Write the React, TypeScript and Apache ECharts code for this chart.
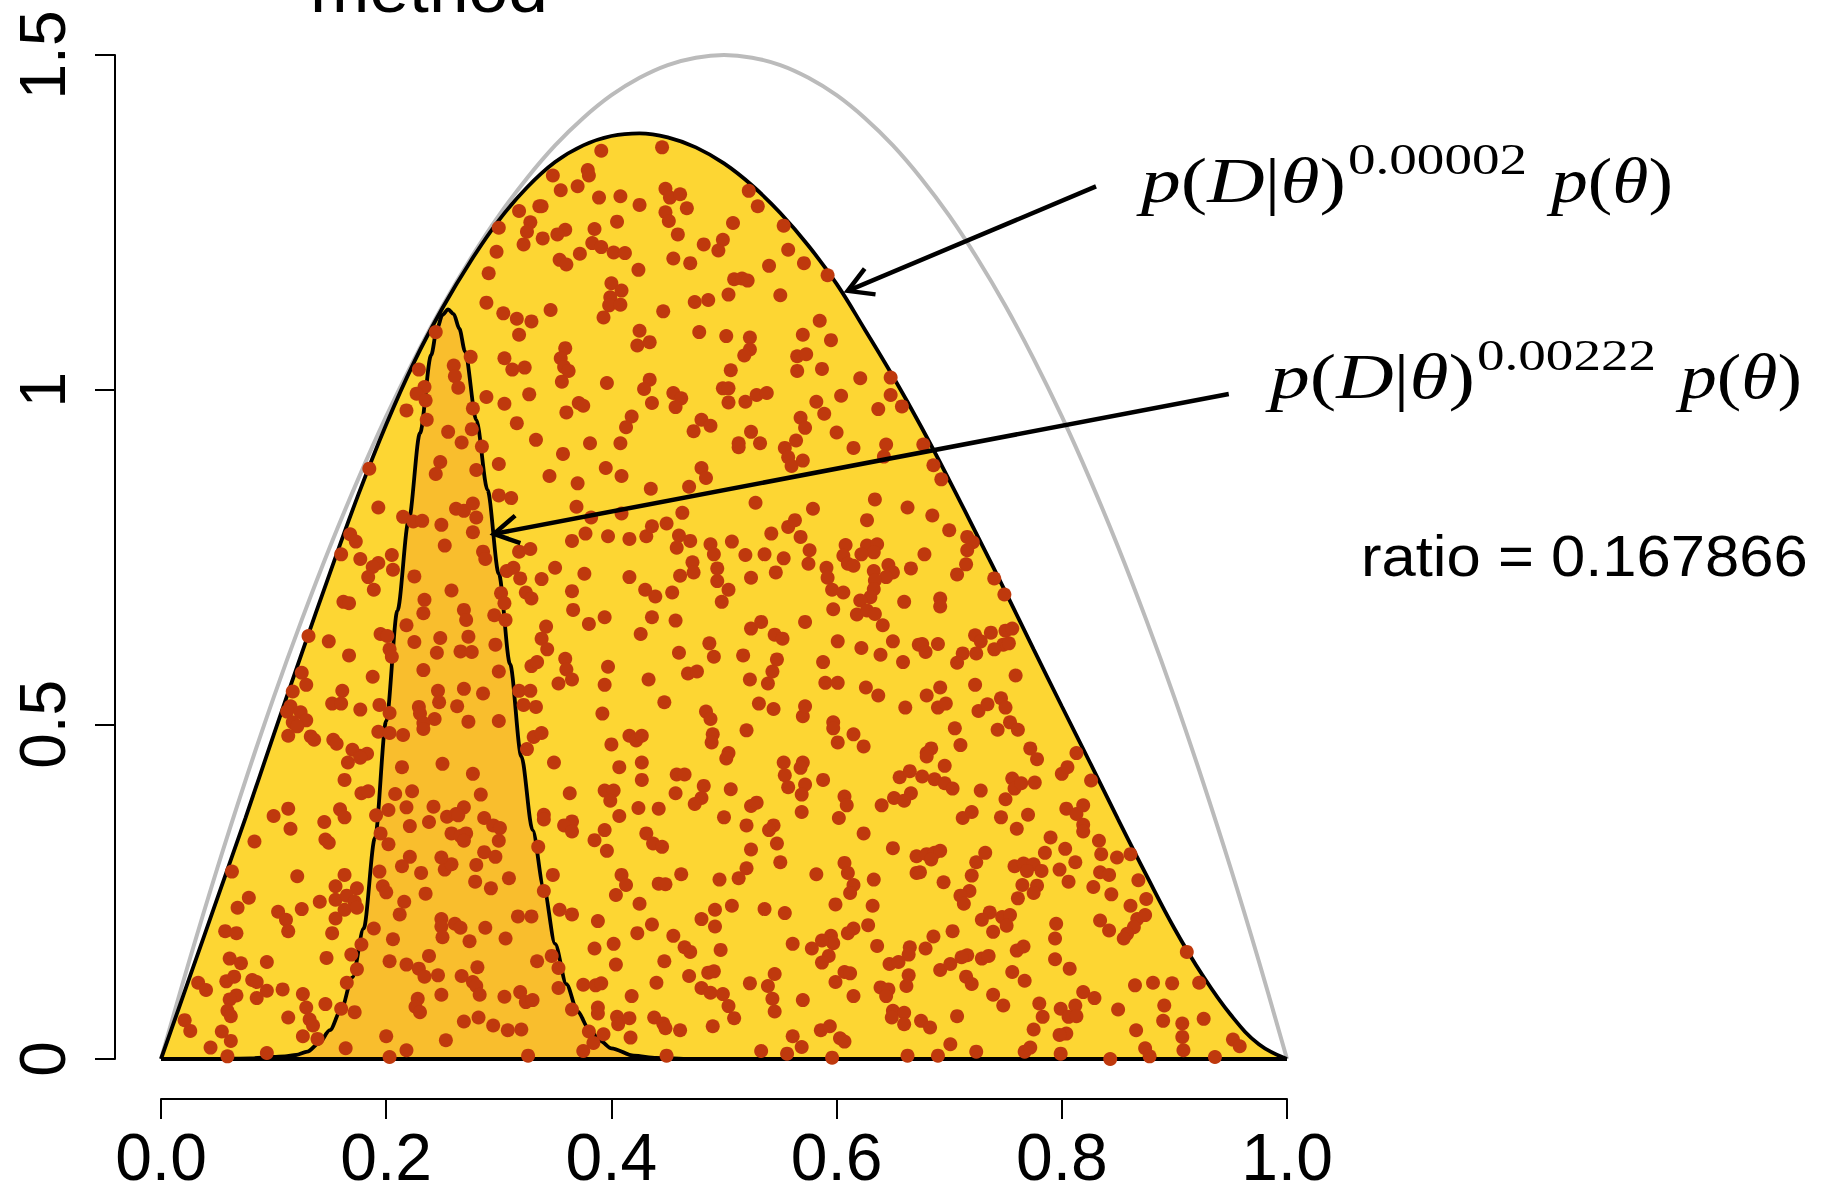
import React, { useEffect, useRef } from "react";
import * as echarts from "echarts";

// ---------- data ----------
const xTickLabels = ["0.0", "0.2", "0.4", "0.6", "0.8", "1.0"];
const yTickLabels = ["0", "0.5", "1", "1.5"];

const thetaGrid = [
  0, 0.025, 0.05, 0.075, 0.1, 0.125, 0.15, 0.175, 0.2, 0.225, 0.25, 0.275, 0.3, 0.325,
  0.35, 0.375, 0.4, 0.425, 0.45, 0.475, 0.5, 0.525, 0.55, 0.575, 0.6, 0.625, 0.65, 0.675,
  0.7, 0.725, 0.75, 0.775, 0.8, 0.825, 0.85, 0.875, 0.9, 0.925, 0.95, 0.975, 1,
];
// grey prior curve p(theta)
const priorValues = [
  0, 0.146, 0.285, 0.416, 0.54, 0.656, 0.765, 0.866, 0.96, 1.046, 1.125, 1.196, 1.26, 1.316,
  1.365, 1.406, 1.44, 1.466, 1.485, 1.496, 1.5, 1.496, 1.485, 1.466, 1.44, 1.406, 1.365, 1.316,
  1.26, 1.196, 1.125, 1.046, 0.96, 0.866, 0.765, 0.656, 0.54, 0.416, 0.285, 0.146, 0,
];
// yellow: p(D|theta)^0.00002 p(theta)
const wideValues = [
  0, 0.12, 0.24, 0.36, 0.484, 0.606, 0.726, 0.842, 0.948, 1.042, 1.122, 1.192, 1.253, 1.302,
  1.34, 1.365, 1.379, 1.383, 1.377, 1.362, 1.338, 1.305, 1.264, 1.215, 1.158, 1.09, 1.02, 0.945,
  0.865, 0.782, 0.698, 0.612, 0.527, 0.443, 0.358, 0.275, 0.195, 0.125, 0.066, 0.022, 0,
];
// orange: p(D|theta)^0.00222 p(theta)
const narrowTheta = [
  0, 0.05, 0.08, 0.1, 0.11, 0.12, 0.13, 0.14, 0.15, 0.16, 0.17, 0.18, 0.19, 0.2, 0.21, 0.22,
  0.23, 0.24, 0.245, 0.25, 0.255, 0.26, 0.265, 0.27, 0.28, 0.29, 0.3, 0.31, 0.32, 0.33, 0.34,
  0.35, 0.36, 0.37, 0.38, 0.39, 0.4, 0.42, 0.44, 0.47, 0.5, 1,
];
const narrowValues = [
  0, 0, 0.001, 0.003, 0.004, 0.006, 0.011, 0.023, 0.043, 0.074, 0.122, 0.195, 0.33, 0.505, 0.67,
  0.805, 0.935, 1.052, 1.09, 1.112, 1.12, 1.113, 1.091, 1.057, 0.955, 0.85, 0.725, 0.59, 0.452,
  0.342, 0.255, 0.172, 0.112, 0.071, 0.045, 0.027, 0.016, 0.005, 0.0015, 0, 0, 0,
];

// sampled points [theta, height]
const dotsUpperLeft = [
  [0.318,1.267],[0.336,1.274],[0.328,1.25],[0.325,1.236],[0.3,1.242],[0.322,1.217],[0.298,1.206],[0.291,1.174],
  [0.289,1.13],[0.304,1.114],[0.316,1.106],[0.329,1.102],[0.318,1.082],[0.244,1.086],[0.275,1.049],[0.26,1.036],
  [0.261,1.02],[0.264,1.003],[0.229,1.03],[0.234,1.004],[0.227,0.994],[0.235,0.984],[0.218,0.969],[0.305,1.047],
  [0.312,1.03],[0.323,1.033],[0.289,0.989],[0.305,0.979],[0.327,0.993],[0.277,0.972],[0.236,0.955],[0.255,0.937],
  [0.276,0.941],[0.316,0.95],
];
const dotsUpperMid = [
  [0.391,1.357],[0.445,1.362],[0.348,1.32],[0.379,1.328],[0.38,1.32],[0.355,1.298],[0.37,1.304],[0.389,1.287],
  [0.408,1.289],[0.425,1.276],[0.338,1.274],[0.448,1.3],[0.452,1.287],[0.461,1.292],[0.467,1.271],[0.448,1.265],
  [0.451,1.252],[0.459,1.232],[0.508,1.249],[0.522,1.297],[0.53,1.274],[0.553,1.245],[0.557,1.209],[0.571,1.189],
  [0.54,1.185],[0.592,1.171],[0.482,1.217],[0.499,1.224],[0.495,1.208],[0.455,1.196],[0.47,1.189],[0.424,1.179],
  [0.405,1.251],[0.385,1.24],[0.359,1.239],[0.352,1.232],[0.339,1.226],[0.383,1.219],[0.391,1.213],[0.402,1.205],
  [0.412,1.204],[0.372,1.203],[0.354,1.194],[0.36,1.187],[0.4,1.159],[0.409,1.148],[0.399,1.138],[0.398,1.126],
  [0.408,1.127],[0.393,1.108],[0.346,1.119],[0.446,1.117],[0.474,1.131],[0.486,1.134],[0.504,1.142],[0.509,1.165],
  [0.516,1.166],[0.521,1.163],[0.55,1.141],[0.425,1.088],[0.423,1.066],[0.434,1.071],[0.478,1.086],[0.502,1.08],
  [0.523,1.078],[0.523,1.06],[0.518,1.051],[0.506,1.029],[0.585,1.103],[0.57,1.082],[0.595,1.074],[0.565,1.05],
  [0.573,1.053],[0.565,1.028],[0.587,1.031],[0.621,1.017],[0.648,1.018],[0.648,0.992],[0.658,0.975],[0.637,0.971],
  [0.604,0.991],[0.582,0.982],[0.589,0.964],[0.6,0.936],[0.568,0.958],[0.572,0.943],[0.359,1.062],[0.355,1.047],
  [0.358,1.034],[0.362,1.028],[0.356,1.012],[0.396,1.01],[0.434,1.015],[0.429,1.001],[0.455,0.995],[0.462,0.987],
  [0.457,0.974],[0.436,0.98],[0.499,1.002],[0.504,1.002],[0.504,0.981],[0.519,0.982],[0.529,0.992],[0.538,0.995],
  [0.48,0.955],[0.488,0.946],[0.473,0.938],[0.524,0.937],[0.418,0.96],[0.413,0.944],[0.371,0.98],[0.375,0.976],
  [0.36,0.966],
];
const dotsMiddleLeft = [
  [0.333,0.925],[0.267,0.921],[0.285,0.915],[0.3,0.889],[0.248,0.892],[0.244,0.874],[0.28,0.88],[0.185,0.882],
  [0.3,0.842],[0.311,0.838],[0.193,0.824],[0.215,0.81],[0.224,0.803],[0.232,0.804],[0.249,0.798],[0.262,0.822],
  [0.269,0.819],[0.277,0.83],[0.28,0.809],[0.277,0.787],[0.252,0.767],[0.286,0.758],[0.288,0.747],[0.318,0.758],
  [0.328,0.762],[0.168,0.784],[0.173,0.773],[0.16,0.754],[0.177,0.747],[0.205,0.753],[0.206,0.731],[0.193,0.741],
  [0.188,0.735],[0.184,0.72],[0.189,0.701],[0.225,0.721],[0.258,0.7],[0.234,0.686],[0.233,0.666],[0.269,0.671],
  [0.271,0.656],[0.307,0.729],[0.313,0.734],[0.319,0.718],[0.324,0.697],[0.329,0.688],[0.302,0.696],[0.305,0.681],
  [0.296,0.663],[0.306,0.656],[0.329,0.587],[0.334,0.593],[0.162,0.683],[0.167,0.681],[0.131,0.632],[0.149,0.624],
  [0.167,0.603],[0.195,0.635],[0.201,0.632],[0.218,0.648],[0.225,0.623],[0.248,0.629],[0.273,0.631],[0.245,0.607],
  [0.266,0.609],[0.276,0.608],[0.297,0.619],[0.203,0.612],[0.205,0.601],[0.233,0.581],[0.3,0.579],[0.125,0.577],
  [0.129,0.559],[0.117,0.549],[0.188,0.571],[0.161,0.55],[0.152,0.531],[0.16,0.531],[0.115,0.527],[0.112,0.519],
  [0.124,0.518],[0.129,0.506],[0.117,0.503],[0.121,0.497],[0.177,0.522],[0.194,0.529],[0.203,0.517],[0.246,0.55],
  [0.247,0.533],[0.229,0.526],[0.23,0.516],[0.269,0.553],[0.286,0.546],[0.263,0.527],[0.243,0.508],[0.233,0.502],
  [0.233,0.493],[0.273,0.504],[0.3,0.505],[0.318,0.55],[0.328,0.55],[0.322,0.529],[0.333,0.526],[0.113,0.483],
  [0.133,0.482],[0.136,0.477],[0.153,0.477],[0.156,0.471],[0.17,0.462],[0.177,0.453],[0.183,0.456],[0.193,0.489],
  [0.203,0.487],[0.215,0.484],[0.331,0.481],[0.325,0.463],
];
const dotsMiddleMid = [
  [0.381,0.92],[0.408,0.92],[0.357,0.904],[0.345,0.871],[0.395,0.883],[0.409,0.871],[0.37,0.86],[0.435,0.852],
  [0.48,0.883],[0.484,0.868],[0.469,0.855],[0.513,0.92],[0.513,0.914],[0.532,0.92],[0.554,0.913],[0.557,0.899],
  [0.56,0.886],[0.57,0.894],[0.564,0.924],[0.615,0.913],[0.644,0.918],[0.642,0.9],[0.528,0.831],[0.579,0.822],
  [0.634,0.836],[0.663,0.824],[0.627,0.805],[0.369,0.825],[0.382,0.809],[0.409,0.815],[0.377,0.785],[0.365,0.774],
  [0.397,0.781],[0.416,0.777],[0.431,0.781],[0.436,0.796],[0.449,0.8],[0.463,0.816],[0.46,0.782],[0.458,0.764],
  [0.47,0.774],[0.488,0.769],[0.491,0.754],[0.507,0.773],[0.472,0.742],[0.473,0.727],[0.494,0.733],[0.461,0.722],
  [0.494,0.714],[0.504,0.701],[0.498,0.683],[0.519,0.753],[0.536,0.754],[0.542,0.785],[0.557,0.795],[0.563,0.805],
  [0.568,0.78],[0.576,0.76],[0.553,0.748],[0.575,0.74],[0.546,0.727],[0.524,0.719],[0.608,0.768],[0.606,0.752],
  [0.61,0.74],[0.615,0.737],[0.627,0.767],[0.636,0.769],[0.633,0.757],[0.622,0.754],[0.591,0.734],[0.592,0.719],
  [0.596,0.701],[0.606,0.697],[0.597,0.672],[0.633,0.729],[0.646,0.738],[0.65,0.727],[0.644,0.72],[0.634,0.715],
  [0.633,0.702],[0.63,0.69],[0.621,0.685],[0.618,0.664],[0.627,0.67],[0.634,0.665],[0.641,0.648],[0.66,0.683],
  [0.666,0.733],[0.35,0.734],[0.376,0.725],[0.338,0.717],[0.365,0.699],[0.366,0.671],[0.38,0.65],[0.394,0.66],
  [0.416,0.72],[0.43,0.701],[0.439,0.691],[0.436,0.66],[0.454,0.697],[0.457,0.655],[0.426,0.635],[0.342,0.646],
  [0.338,0.628],[0.343,0.612],[0.359,0.598],[0.36,0.582],[0.365,0.567],[0.353,0.561],[0.397,0.586],[0.394,0.559],
  [0.433,0.567],[0.392,0.516],[0.338,0.487],[0.416,0.483],[0.422,0.476],[0.427,0.483],[0.4,0.47],[0.447,0.533],
  [0.46,0.607],[0.487,0.621],[0.491,0.601],[0.468,0.576],[0.476,0.579],[0.517,0.603],[0.523,0.567],[0.539,0.561],
  [0.543,0.579],[0.547,0.597],[0.524,0.643],[0.533,0.653],[0.545,0.634],[0.552,0.628],[0.572,0.653],[0.601,0.624],
  [0.622,0.614],[0.639,0.604],[0.65,0.624],[0.673,0.619],[0.659,0.593],[0.588,0.593],[0.59,0.562],[0.601,0.562],
  [0.626,0.555],[0.637,0.543],[0.661,0.525],[0.531,0.531],[0.544,0.523],[0.57,0.512],[0.572,0.527],[0.597,0.503],
  [0.597,0.494],[0.615,0.485],[0.624,0.467],[0.601,0.473],[0.484,0.519],[0.488,0.508],[0.49,0.485],[0.489,0.473],
  [0.504,0.457],[0.52,0.491],
];
const dotsMiddleRight = [
  [0.677,0.918],[0.686,0.887],[0.693,0.866],[0.685,0.812],[0.7,0.79],[0.716,0.78],[0.721,0.772],[0.716,0.76],
  [0.715,0.739],[0.707,0.724],[0.678,0.754],[0.74,0.718],[0.749,0.694],[0.692,0.688],[0.692,0.676],[0.676,0.62],
  [0.679,0.608],[0.69,0.62],[0.723,0.633],[0.728,0.624],[0.737,0.637],[0.75,0.64],[0.756,0.643],[0.748,0.619],
  [0.753,0.621],[0.74,0.612],[0.724,0.606],[0.712,0.606],[0.707,0.592],[0.759,0.573],[0.723,0.559],[0.692,0.555],
  [0.68,0.543],[0.69,0.525],[0.697,0.531],[0.726,0.52],[0.734,0.53],[0.746,0.539],[0.75,0.525],[0.754,0.503],
  [0.761,0.492],[0.743,0.492],[0.705,0.494],[0.71,0.469],[0.684,0.464],[0.68,0.457],[0.772,0.464],[0.813,0.457],
];
const dotsLowerLeft = [
  [0.166,0.443],[0.177,0.45],[0.214,0.436],[0.25,0.441],[0.277,0.426],[0.163,0.417],[0.178,0.397],[0.184,0.4],
  [0.208,0.396],[0.223,0.4],[0.284,0.395],[0.218,0.376],[0.242,0.377],[0.1,0.363],[0.113,0.374],[0.115,0.344],
  [0.083,0.325],[0.145,0.354],[0.146,0.328],[0.149,0.323],[0.159,0.373],[0.163,0.361],[0.191,0.364],[0.202,0.372],
  [0.195,0.337],[0.202,0.321],[0.221,0.348],[0.238,0.354],[0.254,0.362],[0.262,0.366],[0.269,0.376],[0.264,0.364],
  [0.258,0.337],[0.266,0.333],[0.271,0.337],[0.269,0.326],[0.287,0.36],[0.295,0.349],[0.301,0.345],[0.3,0.326],
  [0.287,0.309],[0.297,0.302],[0.28,0.29],[0.335,0.317],[0.252,0.283],[0.258,0.291],[0.249,0.301],[0.221,0.302],
  [0.214,0.288],[0.231,0.278],[0.235,0.247],[0.279,0.265],[0.293,0.255],[0.309,0.27],[0.063,0.28],[0.121,0.273],
  [0.163,0.275],[0.155,0.258],[0.174,0.255],[0.155,0.238],[0.165,0.244],[0.172,0.235],[0.163,0.223],[0.174,0.226],
  [0.141,0.235],[0.125,0.224],[0.104,0.22],[0.111,0.208],[0.113,0.191],[0.078,0.241],[0.068,0.226],[0.057,0.191],
  [0.067,0.188],[0.155,0.21],[0.152,0.188],[0.194,0.28],[0.197,0.258],[0.2,0.249],[0.216,0.235],[0.212,0.216],
  [0.189,0.195],[0.206,0.179],[0.178,0.171],[0.169,0.156],[0.174,0.134],[0.147,0.151],[0.094,0.145],[0.061,0.15],
  [0.071,0.143],[0.165,0.114],[0.249,0.209],[0.249,0.198],[0.25,0.182],[0.261,0.202],[0.266,0.196],[0.288,0.196],
  [0.274,0.176],[0.306,0.18],[0.317,0.213],[0.329,0.213],[0.238,0.154],[0.203,0.146],[0.218,0.141],[0.229,0.135],
  [0.234,0.123],[0.246,0.125],[0.267,0.124],[0.281,0.137],[0.334,0.146],[0.277,0.115],[0.28,0.109],[0.283,0.096],
  [0.249,0.096],[0.228,0.09],[0.226,0.078],[0.23,0.07],[0.305,0.093],[0.319,0.1],[0.324,0.085],[0.33,0.088],
  [0.033,0.114],[0.04,0.103],[0.058,0.116],[0.065,0.123],[0.081,0.118],[0.085,0.115],[0.094,0.102],[0.108,0.104],
  [0.085,0.091],[0.067,0.095],[0.061,0.089],[0.059,0.072],[0.062,0.064],[0.021,0.058],[0.026,0.042],[0.054,0.041],
  [0.062,0.027],[0.044,0.017],[0.059,0.004],[0.094,0.009],[0.113,0.062],[0.126,0.097],[0.129,0.077],[0.132,0.059],
  [0.135,0.05],[0.126,0.034],[0.139,0.03],[0.146,0.082],[0.16,0.075],[0.172,0.07],[0.164,0.016],[0.2,0.034],
  [0.203,0.003],[0.218,0.013],[0.253,0.028],[0.269,0.056],[0.282,0.062],[0.295,0.05],[0.308,0.043],[0.32,0.044],
  [0.326,0.005],
];
const dotsLowerMid = [
  [0.349,0.443],[0.407,0.436],[0.427,0.443],[0.427,0.417],[0.363,0.397],[0.394,0.401],[0.402,0.401],[0.399,0.386],
  [0.458,0.425],[0.465,0.425],[0.482,0.408],[0.48,0.39],[0.474,0.381],[0.457,0.397],[0.506,0.403],[0.502,0.449],
  [0.553,0.443],[0.57,0.443],[0.568,0.435],[0.554,0.424],[0.557,0.406],[0.572,0.41],[0.569,0.395],[0.588,0.417],
  [0.569,0.369],[0.607,0.392],[0.609,0.379],[0.602,0.36],[0.64,0.379],[0.651,0.39],[0.66,0.386],[0.666,0.397],
  [0.656,0.421],[0.665,0.43],[0.34,0.365],[0.34,0.358],[0.365,0.355],[0.358,0.349],[0.365,0.34],[0.394,0.342],
  [0.385,0.327],[0.396,0.311],[0.407,0.363],[0.424,0.375],[0.442,0.374],[0.431,0.337],[0.437,0.322],[0.445,0.317],
  [0.5,0.361],[0.52,0.349],[0.524,0.378],[0.529,0.383],[0.544,0.349],[0.54,0.342],[0.547,0.322],[0.524,0.313],
  [0.55,0.294],[0.52,0.285],[0.513,0.27],[0.496,0.268],[0.624,0.337],[0.65,0.315],[0.671,0.303],[0.607,0.293],
  [0.61,0.278],[0.615,0.26],[0.612,0.248],[0.582,0.276],[0.633,0.268],[0.671,0.278],[0.348,0.275],[0.34,0.251],
  [0.409,0.275],[0.413,0.26],[0.404,0.245],[0.442,0.262],[0.448,0.261],[0.462,0.276],[0.425,0.232],[0.354,0.223],
  [0.365,0.216],[0.388,0.206],[0.436,0.201],[0.423,0.188],[0.455,0.184],[0.48,0.209],[0.492,0.223],[0.492,0.198],
  [0.507,0.229],[0.536,0.224],[0.554,0.218],[0.632,0.229],[0.599,0.231],[0.615,0.195],[0.628,0.2],[0.61,0.188],
  [0.595,0.184],[0.597,0.173],[0.587,0.177],[0.578,0.165],[0.593,0.154],[0.587,0.144],[0.636,0.169],[0.665,0.167],
  [0.664,0.156],[0.561,0.172],[0.385,0.165],[0.402,0.172],[0.404,0.141],[0.447,0.146],[0.465,0.167],[0.47,0.16],
  [0.497,0.163],[0.347,0.154],[0.353,0.136],[0.375,0.111],[0.386,0.11],[0.391,0.113],[0.469,0.124],[0.44,0.114],
  [0.486,0.129],[0.491,0.131],[0.48,0.106],[0.488,0.099],[0.499,0.097],[0.504,0.079],[0.509,0.061],[0.49,0.049],
  [0.461,0.043],[0.523,0.113],[0.539,0.109],[0.543,0.09],[0.545,0.071],[0.545,0.127],[0.57,0.088],[0.599,0.115],
  [0.607,0.13],[0.612,0.128],[0.615,0.094],[0.647,0.142],[0.655,0.145],[0.664,0.125],[0.662,0.109],[0.639,0.107],
  [0.646,0.104],[0.644,0.094],[0.65,0.072],[0.649,0.062],[0.66,0.069],[0.66,0.052],[0.353,0.106],[0.365,0.074],
  [0.388,0.077],[0.388,0.068],[0.418,0.094],[0.405,0.063],[0.406,0.052],[0.416,0.061],[0.438,0.062],[0.446,0.053],
  [0.448,0.046],[0.417,0.032],[0.38,0.041],[0.393,0.037],[0.384,0.024],[0.375,0.012],[0.449,0.005],[0.533,0.012],
  [0.556,0.008],[0.569,0.018],[0.561,0.034],[0.586,0.043],[0.594,0.049],[0.603,0.031],[0.607,0.026],[0.596,0.002],
  [0.663,0.005],
];
const dotsLowerRight = [
  [0.68,0.452],[0.676,0.422],[0.696,0.438],[0.687,0.418],[0.696,0.412],[0.703,0.404],[0.728,0.401],[0.75,0.388],
  [0.756,0.419],[0.758,0.404],[0.764,0.412],[0.776,0.413],[0.778,0.448],[0.8,0.426],[0.805,0.436],[0.826,0.416],
  [0.804,0.374],[0.813,0.366],[0.819,0.379],[0.819,0.35],[0.819,0.34],[0.712,0.36],[0.72,0.369],[0.746,0.361],
  [0.76,0.344],[0.77,0.365],[0.79,0.331],[0.785,0.308],[0.803,0.314],[0.812,0.294],[0.798,0.283],[0.806,0.265],
  [0.833,0.326],[0.835,0.306],[0.849,0.301],[0.861,0.306],[0.834,0.279],[0.842,0.275],[0.828,0.257],[0.844,0.246],
  [0.868,0.267],[0.875,0.239],[0.861,0.229],[0.867,0.209],[0.874,0.215],[0.864,0.197],[0.858,0.187],[0.855,0.18],
  [0.834,0.207],[0.842,0.192],[0.674,0.279],[0.68,0.306],[0.687,0.308],[0.692,0.311],[0.684,0.298],[0.695,0.264],
  [0.72,0.274],[0.724,0.294],[0.732,0.308],[0.758,0.288],[0.766,0.292],[0.775,0.291],[0.769,0.281],[0.782,0.281],
  [0.765,0.26],[0.778,0.259],[0.775,0.248],[0.761,0.24],[0.718,0.251],[0.71,0.244],[0.713,0.232],[0.736,0.219],
  [0.729,0.208],[0.747,0.212],[0.754,0.215],[0.751,0.199],[0.739,0.19],[0.703,0.191],[0.686,0.183],[0.679,0.165],
  [0.716,0.155],[0.711,0.152],[0.729,0.15],[0.735,0.154],[0.76,0.162],[0.766,0.168],[0.692,0.133],[0.701,0.142],
  [0.715,0.123],[0.72,0.112],[0.756,0.13],[0.767,0.117],[0.795,0.202],[0.794,0.18],[0.794,0.149],[0.807,0.135],
  [0.739,0.096],[0.748,0.08],[0.707,0.064],[0.675,0.057],[0.683,0.047],[0.701,0.022],[0.724,0.011],[0.69,0.005],
  [0.767,0.011],[0.772,0.017],[0.775,0.044],[0.78,0.083],[0.783,0.063],[0.799,0.075],[0.812,0.08],[0.819,0.1],
  [0.829,0.091],[0.806,0.063],[0.813,0.064],[0.804,0.038],[0.798,0.036],[0.799,0.008],[0.843,0],[0.85,0.074],
  [0.866,0.043],[0.874,0.016],[0.878,0.004],[0.891,0.08],[0.89,0.057],[0.907,0.053],[0.907,0.033],[0.908,0.013],
  [0.926,0.06],[0.936,0.003],[0.952,0.029],[0.958,0.019],[0.911,0.16],[0.922,0.114],[0.865,0.11],[0.881,0.114],
  [0.898,0.113],
];

// annotation arrows [fromTheta, fromHeight, toTheta, toHeight]
const arrowWide = [0.8304, 1.3037, 0.6099, 1.1476];
const arrowNarrow = [0.9483, 0.9936, 0.2957, 0.7845];

const YELLOW = "#FDD633";
const ORANGE = "#F9BE2D";
const DOT = "#BF390D";
const GREY = "#BBBBBB";

function measure(text: string, font: string): number {
  const c = document.createElement("canvas").getContext("2d")!;
  c.font = font;
  return c.measureText(text).width;
}

// tokens: [text, italic]
function fitRich(
  tokens: [string, boolean][],
  left: number,
  baseline: number,
  size: number,
  family: string,
  targetWidth: number
) {
  let w = 0;
  for (const [t, it] of tokens) {
    w += measure(t, `${it ? "italic" : "normal"} ${size}px "${family}"`);
  }
  const text = tokens.map(([t, it]) => `{${it ? "i" : "n"}|${t}}`).join("");
  const base = { fontSize: size, fontFamily: family, fill: "#000" };
  return {
    type: "text",
    x: left,
    y: baseline - 0.34 * size,
    scaleX: targetWidth / w,
    silent: true,
    z: 100,
    style: {
      text,
      ...base,
      rich: {
        i: { ...base, fontStyle: "italic" },
        n: { ...base, fontStyle: "normal" },
      },
      align: "left",
      verticalAlign: "middle",
    },
  };
}

function fitText(
  text: string,
  left: number,
  baseline: number,
  size: number,
  family: string,
  style: string,
  targetWidth: number
) {
  const w = measure(text, `${style} ${size}px "${family}"`);
  return {
    type: "text",
    x: left,
    y: baseline - 0.34 * size,
    scaleX: targetWidth / w,
    silent: true,
    z: 100,
    style: {
      text,
      fontSize: size,
      fontFamily: family,
      fontStyle: style,
      fill: "#000",
      align: "left",
      verticalAlign: "middle",
    },
  };
}

function arrowElements(chart: any, a: number[]) {
  const p0 = chart.convertToPixel({ gridIndex: 0 }, [a[0], a[1]]);
  const p1 = chart.convertToPixel({ gridIndex: 0 }, [a[2], a[3]]);
  const ang = Math.atan2(p0[1] - p1[1], p0[0] - p1[0]);
  const len = 28;
  const spread = (30 * Math.PI) / 180;
  const w1 = [p1[0] + len * Math.cos(ang + spread), p1[1] + len * Math.sin(ang + spread)];
  const w2 = [p1[0] + len * Math.cos(ang - spread), p1[1] + len * Math.sin(ang - spread)];
  const ls = { stroke: "#000", lineWidth: 4.5, lineCap: "butt" };
  return [
    { type: "line", silent: true, z: 100, shape: { x1: p0[0], y1: p0[1], x2: p1[0], y2: p1[1] }, style: ls },
    { type: "polyline", silent: true, z: 100, shape: { points: [w1, p1, w2] }, style: { ...ls, fill: null } },
  ];
}

export default function App() {
  const ref = useRef<HTMLDivElement>(null);
  useEffect(() => {
    document.body.style.margin = "0";
    const chart = echarts.init(ref.current!, null, { renderer: "svg" });
    const dots = [
      ...dotsUpperLeft,
      ...dotsUpperMid,
      ...dotsMiddleLeft,
      ...dotsMiddleMid,
      ...dotsMiddleRight,
      ...dotsLowerLeft,
      ...dotsLowerMid,
      ...dotsLowerRight,
    ];
    const axisFont = { fontFamily: "Liberation Sans", color: "#000" };
    chart.setOption({
      animation: false,
      backgroundColor: "#fff",
      grid: { left: 161, right: 548, top: 55, bottom: 126 },
      xAxis: {
        type: "value",
        min: 0,
        max: 1,
        interval: 0.2,
        offset: 40,
        axisLine: { show: true, onZero: false, lineStyle: { color: "#000", width: 2 } },
        axisTick: { show: true, length: 20, lineStyle: { color: "#000", width: 2 } },
        axisLabel: {
          ...axisFont,
          fontSize: 66,
          margin: 25,
          formatter: (_v: number, i: number) => xTickLabels[i],
        },
        splitLine: { show: false },
      },
      yAxis: {
        type: "value",
        min: 0,
        max: 1.5,
        interval: 0.5,
        offset: 46,
        axisLine: { show: true, onZero: false, lineStyle: { color: "#000", width: 2 } },
        axisTick: { show: true, length: 20, lineStyle: { color: "#000", width: 2 } },
        axisLabel: {
          ...axisFont,
          fontSize: 64,
          rotate: 90,
          margin: 40,
          formatter: (_v: number, i: number) => yTickLabels[i],
        },
        splitLine: { show: false },
      },
      series: [
        {
          type: "line",
          name: "prior",
          data: thetaGrid.map((t, i) => [t, priorValues[i]]),
          smooth: 0.4,
          showSymbol: false,
          lineStyle: { color: GREY, width: 4 },
          z: 1,
        },
        {
          type: "line",
          name: "wide",
          data: thetaGrid.map((t, i) => [t, wideValues[i]]),
          smooth: 0.4,
          showSymbol: false,
          lineStyle: { color: "#000", width: 3.8 },
          areaStyle: { color: YELLOW, opacity: 1 },
          z: 2,
        },
        {
          type: "line",
          name: "narrow",
          data: narrowTheta.map((t, i) => [t, narrowValues[i]]),
          smooth: 0.3,
          smoothMonotone: "x",
          showSymbol: false,
          lineStyle: { color: "#000", width: 3.8 },
          areaStyle: { color: ORANGE, opacity: 1 },
          z: 3,
        },
        {
          type: "line",
          name: "base",
          data: [
            [0, 0],
            [1, 0],
          ],
          showSymbol: false,
          lineStyle: { color: "#000", width: 3.8 },
          z: 4,
        },
        {
          type: "scatter",
          name: "samples",
          data: dots,
          symbolSize: 14,
          itemStyle: { color: DOT, opacity: 1 },
          clip: false,
          z: 5,
        },
      ],
    });

    const serif = "Liberation Serif";
    const sans = "Liberation Sans";
    const lik: [string, boolean][] = [
      ["p", true],
      ["(", false],
      ["D", true],
      ["|", false],
      ["θ", true],
      [")", false],
    ];
    const prior: [string, boolean][] = [
      ["p", true],
      ["(", false],
      ["θ", true],
      [")", false],
    ];
    const graphics: any[] = [
      ...arrowElements(chart, arrowWide),
      ...arrowElements(chart, arrowNarrow),
      fitText("method", 310, 12, 66, sans, "normal", 238),
      // first label
      fitRich(lik, 1141, 202, 64, serif, 205),
      fitText("0.00002", 1348, 174, 44, serif, "normal", 179),
      fitRich(prior, 1551, 202, 64, serif, 122),
      // second label
      fitRich(lik, 1270, 398, 64, serif, 205),
      fitText("0.00222", 1477, 370, 44, serif, "normal", 179),
      fitRich(prior, 1680, 398, 64, serif, 122),
      fitText("ratio = 0.167866", 1361, 576, 58, sans, "normal", 447),
    ];
    chart.setOption({ graphic: graphics });
    return () => chart.dispose();
  }, []);
  return <div ref={ref} style={{ width: 1835, height: 1190 }} />;
}
